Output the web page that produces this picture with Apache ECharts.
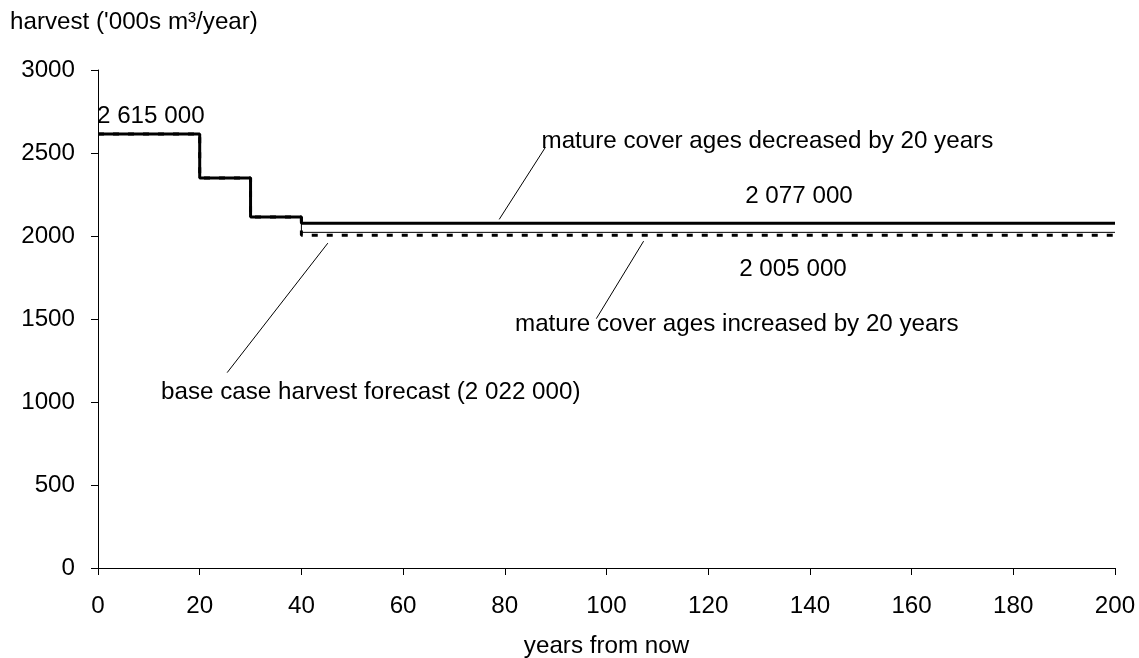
<!DOCTYPE html>
<html>
<head>
<meta charset="utf-8">
<script src="https://cdn.jsdelivr.net/npm/echarts@6/dist/echarts.min.js"></script>
<style>
  html, body { margin: 0; padding: 0; background: #fff; }
  #chart { width: 1139px; height: 658px; }
</style>
</head>
<body>
<div id="chart"></div>
<script>
// Harvest forecast by period (thousands of m³ per year)
const years = [0, 20, 30, 40, 200];
const decreasedAges = [2615, 2350, 2115, 2077, 2077];
const baseCase = [2615, 2350, 2115, 2022, 2022];
const increasedAges = [2615, 2350, 2115, 2005, 2005];

// Axis ranges and tick spacing
const xRange = { min: 0, max: 200, interval: 20 };
const yRange = { min: 0, max: 3000, interval: 500 };

const FONT = '"Liberation Sans", Arial, Helvetica, sans-serif';
const FS = 24.2;

// 2077 -> "2 077 000"
function fmt(v) {
  return String(Math.round(v * 1000)).replace(/\B(?=(\d{3})+(?!\d))/g, ' ');
}

function pairs(ys) {
  return years.map((x, i) => [x, ys[i]]);
}

const chart = echarts.init(document.getElementById('chart'), null, { renderer: 'canvas' });

const leaderStyle = { color: '#000', width: 1, type: 'solid' };

chart.setOption({
  animation: false,
  backgroundColor: '#fff',
  title: {
    text: "harvest ('000s m³/year)",
    left: 10,
    top: 10,
    padding: 0,
    textStyle: { fontFamily: FONT, fontSize: FS, fontWeight: 'normal', color: '#000' }
  },
  grid: {
    left: 98, right: 24, top: 70, bottom: 90,
    containLabel: false,
    outerBoundsMode: 'none'
  },
  xAxis: {
    type: 'value',
    min: xRange.min, max: xRange.max, interval: xRange.interval,
    name: 'years from now',
    nameLocation: 'middle',
    nameGap: 66,
    nameTextStyle: { fontFamily: FONT, fontSize: FS, color: '#000' },
    axisLine: { show: true, onZero: false, lineStyle: { color: '#000', width: 1 } },
    axisTick: { show: true, inside: false, length: 7, lineStyle: { color: '#000', width: 1 } },
    axisLabel: {
      margin: 26, fontFamily: FONT, fontSize: FS, color: '#000',
      showMinLabel: true, showMaxLabel: true,
      formatter: v => String(v)
    },
    splitLine: { show: false }
  },
  yAxis: {
    type: 'value',
    min: yRange.min, max: yRange.max, interval: yRange.interval,
    axisLine: { show: true, lineStyle: { color: '#000', width: 1 } },
    axisTick: { show: true, inside: false, length: 7, lineStyle: { color: '#000', width: 1 } },
    axisLabel: {
      margin: 23, fontFamily: FONT, fontSize: FS, color: '#000',
      showMinLabel: true, showMaxLabel: true,
      formatter: v => String(v)
    },
    splitLine: { show: false }
  },
  series: [
    {
      name: 'mature cover ages increased by 20 years',
      type: 'line',
      step: 'end',
      data: pairs(increasedAges),
      symbol: 'none',
      lineStyle: { color: '#000', width: 3, type: [6, 9] },
      z: 2
    },
    {
      name: 'base case harvest forecast',
      type: 'line',
      step: 'end',
      data: pairs(baseCase),
      symbol: 'none',
      lineStyle: { color: '#000', width: 1 },
      z: 3,
      markLine: {
        silent: true,
        symbol: 'none',
        label: { show: false },
        lineStyle: leaderStyle,
        data: [
          [{ coord: [78.9, 2100] }, { coord: [88.0, 2535] }],
          [{ coord: [107.3, 1969] }, { coord: [98.0, 1502] }],
          [{ coord: [45.2, 1957] }, { coord: [25.4, 1177] }]
        ]
      }
    },
    {
      name: 'mature cover ages decreased by 20 years',
      type: 'line',
      step: 'end',
      data: pairs(decreasedAges),
      symbol: 'none',
      lineStyle: { color: '#000', width: 3 },
      z: 4
    }
  ]
});

// Annotation texts
function label(text, x, y, align) {
  return {
    type: 'text',
    x: x, y: y,
    z: 10,
    style: {
      text: text,
      fontFamily: FONT,
      fontSize: FS,
      fill: '#000',
      align: align || 'left',
      verticalAlign: 'middle'
    }
  };
}

chart.setOption({
  graphic: [
    label(fmt(decreasedAges[0]), 97, 116),
    label('mature cover ages decreased by 20 years', 541.5, 141),
    label(fmt(decreasedAges[3]), 799, 196, 'center'),
    label(fmt(increasedAges[3]), 793, 269, 'center'),
    label('mature cover ages increased by 20 years', 515, 324),
    label('base case harvest forecast (' + fmt(baseCase[3]) + ')', 161, 392.5)
  ]
});
</script>
</body>
</html>
